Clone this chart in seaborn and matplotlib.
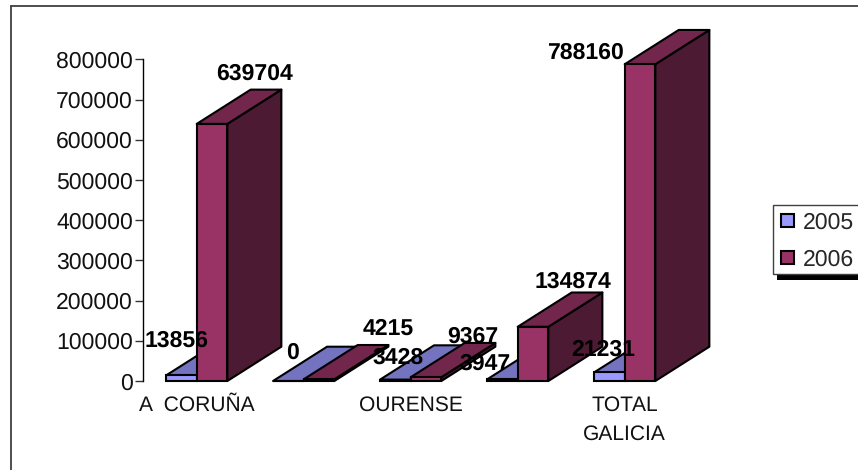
import matplotlib
matplotlib.use("Agg")
import matplotlib.pyplot as plt
from matplotlib.lines import Line2D
from matplotlib.patches import Patch, Rectangle
import pandas as pd
import seaborn as sns

categories = ["A CORUÑA", "LUGO", "OURENSE", "PONTEVEDRA", "TOTAL GALICIA"]
tick_labels = ["A  CORUÑA", "", "OURENSE", "", "TOTAL\nGALICIA"]
values_2005 = [13856, 0, 3428, 3947, 21231]
values_2006 = [639704, 4215, 9367, 134874, 788160]
y_ticks = [0, 100000, 200000, 300000, 400000, 500000, 600000, 700000, 800000]

W, H = 858, 470
COL = {"2005": ("#9999FF", "#7373BF", "#4D4D80"), "2006": ("#993366", "#72264C", "#4D1A33")}
# label offsets from each bar's front-top centre, in pixels (right, up)
OFF_2005 = [(-5, 35), (4, 28), (3, 22), (-17, 16), (-6, 23)]
OFF_2006 = [(43, 50), (69, 50), (47, 40), (40, 45), (-55, 11)]

sns.set_theme(style="white")
plt.rcParams["font.family"] = ["Liberation Sans", "DejaVu Sans"]
plt.rcParams["text.hinting"] = "no_hinting"
plt.rcParams["text.hinting_factor"] = 1
FS = 16.3

df = pd.DataFrame({
    "cat": categories * 2,
    "year": ["2005"] * 5 + ["2006"] * 5,
    "value": values_2005 + values_2006,
})

fig = plt.figure(figsize=(W / 100, H / 100), dpi=100)
fig.patch.set_facecolor("white")
left, right, top, bottom = 143.2, 678.2, 59.5, 381.0
ax = fig.add_axes([left / W, 1 - bottom / H, (right - left) / W, (bottom - top) / H])


def fx(px):
    return px / W


def fy(px):
    return 1 - px / H


for xs, ys in [((10.5, 10.5), (6, 470)), ((10.5, 858), (6, 6))]:
    fig.add_artist(Line2D([fx(v) for v in xs], [fy(v) for v in ys], color="#404040", lw=1.3, zorder=-5))

sns.barplot(data=df, x="cat", y="value", hue="year", hue_order=["2005", "2006"],
            order=categories, width=0.573, gap=0, saturation=1,
            palette={k: v[0] for k, v in COL.items()},
            edgecolor="black", linewidth=1.5, ax=ax, legend=False)
ax.set_xlim(-0.5, 4.5)
ax.set_ylim(0, 800000)

DX = 54 / 107
DY = 34.3 / (bottom - top) * 800000

bars = []
for cont, year, offs in zip(ax.containers, ["2005", "2006"], [OFF_2005, OFF_2006]):
    for rect, off in zip(cont.patches, offs):
        bars.append((rect, year, off))
bars.sort(key=lambda b: b[0].get_x())

for i, (rect, year, off) in enumerate(bars):
    x0, w, h = rect.get_x(), rect.get_width(), rect.get_height()
    x1 = x0 + w
    front, topc, side = COL[year]
    z = 3 + i * 0.1
    ax.fill([x1, x1 + DX, x1 + DX, x1], [0, DY, h + DY, h], fc=side, ec="black", lw=1.5,
            zorder=z, clip_on=False, joinstyle="round")
    ax.fill([x0, x0 + DX, x1 + DX, x1], [h, h + DY, h + DY, h], fc=topc, ec="black", lw=1.5,
            zorder=z + 0.01, clip_on=False, joinstyle="round")
    rect.set_zorder(z + 0.02)
    rect.set_clip_on(False)
    ax.annotate(f"{int(h)}", xy=(x0 + w / 2, h), xytext=off, textcoords="offset pixels",
                ha="center", va="center", fontsize=FS, fontweight="bold", color="black",
                zorder=20, annotation_clip=False)

for s in ["top", "right", "bottom"]:
    ax.spines[s].set_visible(False)
ax.spines["left"].set_color("black")
ax.spines["left"].set_linewidth(1.0)
ax.patch.set_alpha(0)

ax.set_xlabel("")
ax.set_ylabel("")
ax.set_yticks(y_ticks)
ax.set_yticklabels([str(v) for v in y_ticks], fontsize=FS, color="#111111")
ax.tick_params(axis="y", length=6, width=1.0, color="#333333", left=True, pad=1.5)
ax.set_xticks(range(5))
ax.set_xticklabels(tick_labels, fontsize=15.2, color="#111111", linespacing=1.6)
ax.tick_params(axis="x", length=0, pad=10.7)

# legend: shadow and frame behind, entries placed on top
fig.add_artist(Rectangle((fx(777), fy(280)), (W - 777) / W, 7 / H, transform=fig.transFigure,
                         fc="black", ec="none", zorder=1))
fig.add_artist(Rectangle((fx(772.5), fy(274)), (W - 772.5 + 5) / W, 69 / H, transform=fig.transFigure,
                         fc="white", ec="#404040", lw=1.0, zorder=2))
handles = [Patch(fc=COL[y][0], ec="black", lw=1.5, label=y) for y in ["2005", "2006"]]
leg = fig.legend(handles=handles, loc="upper left",
                 bbox_to_anchor=(fx(781), fy(212)), bbox_transform=fig.transFigure,
                 fontsize=FS, frameon=False, borderaxespad=0, borderpad=0, labelspacing=0.68,
                 handlelength=0.56, handleheight=0.52, handletextpad=0.39)
leg.set_zorder(3)

fig.savefig("out.png", dpi=100, facecolor="white")
